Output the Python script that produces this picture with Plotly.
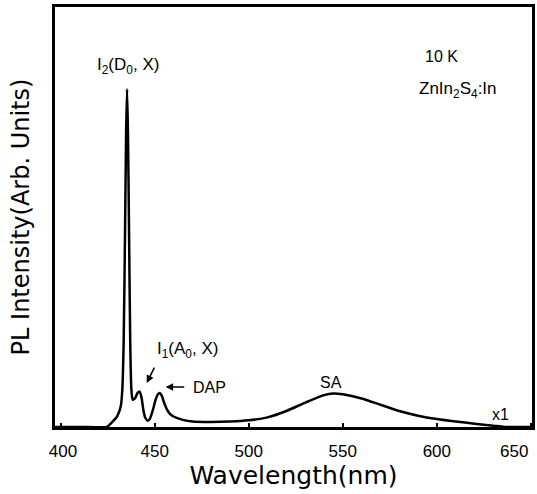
import plotly.graph_objects as go

# Spectrum (wavelength nm, PL intensity arb. units, normalised to axis height)
wavelength = [397, 415, 424.5, 427, 430, 432, 432.8, 433.5, 434.2, 434.8, 435.3,
              435.8, 436.4, 437.0, 437.6, 438.3, 439.5, 441.0, 442.0, 443.0,
              444.0, 445.0, 446.3, 447.5, 449.0, 450.5, 451.7, 452.7, 453.8,
              455.0, 456.5, 458.0, 460.0, 465.0, 470.0, 480.0, 490.0, 500.0,
              510.0, 520.0, 530.0, 540.0, 545.0, 550.0, 560.0, 570.0, 580.0,
              590.0, 600.0, 610.0, 620.0, 630.0, 636.0, 650.0]
intensity = [0, 0, 0, 0.01, 0.025, 0.05, 0.09, 0.2, 0.45, 0.7, 0.805,
             0.7, 0.45, 0.2, 0.09, 0.065, 0.068, 0.082, 0.084, 0.07,
             0.04, 0.022, 0.015, 0.02, 0.04, 0.065, 0.078, 0.081, 0.074,
             0.058, 0.042, 0.032, 0.025, 0.017, 0.013, 0.012, 0.013, 0.016,
             0.023, 0.038, 0.058, 0.076, 0.08, 0.078, 0.068, 0.053, 0.038,
             0.027, 0.019, 0.013, 0.008, 0.003, 0.0, 0.0]

x_ticks = [400, 450, 500, 550, 600, 650]
x_tick_labels = ["\u00a0400", "450", "500", "550", "600", "650"]

font_txt = "Arial, Liberation Sans, sans-serif"

fig = go.Figure()
fig.add_trace(go.Scatter(x=wavelength, y=intensity, mode="lines",
                         line=dict(color="black", width=2.5, shape="spline", smoothing=0.6),
                         showlegend=False, hoverinfo="skip"))

ann = []
def label(x, y, text, size=16, xanchor="center"):
    ann.append(dict(x=x, y=y, xref="x", yref="y", text=text, showarrow=False,
                    xanchor=xanchor, yanchor="middle",
                    font=dict(family=font_txt, size=size, color="black")))

label(435.7, 0.86, "I<sub>2</sub>(D<sub>0</sub>, X)", size=17)
label(467.6, 0.183, "I<sub>1</sub>(A<sub>0</sub>, X)", size=17)
label(469.5, 0.093, "DAP", xanchor="left")
label(544, 0.105, "SA")
label(634, 0.029, "x1")
label(602.3, 0.881, "10 K")
label(611.3, 0.802, "ZnIn<sub>2</sub>S<sub>4</sub>:In", size=17)

# last tick label kept inside the frame (as in the original figure)
ann.append(dict(x=x_ticks[-1], y=0, xref="x", yref="paper", text=x_tick_labels[-1],
                showarrow=False, xanchor="right", yanchor="top", xshift=-1, yshift=-13,
                font=dict(family=font_txt, size=17, color="black")))

# arrows
ann.append(dict(x=445.8, y=0.105, ax=450.2, ay=0.145, xref="x", yref="y",
                axref="x", ayref="y", text="", showarrow=True, arrowhead=2,
                arrowsize=1, arrowwidth=1.5, arrowcolor="black"))
ann.append(dict(x=455.8, y=0.095, ax=466.5, ay=0.095, xref="x", yref="y",
                axref="x", ayref="y", text="", showarrow=True, arrowhead=2,
                arrowsize=1, arrowwidth=1.5, arrowcolor="black"))

fig.update_layout(
    width=537, height=494,
    margin=dict(l=55, r=5, t=7, b=67, autoexpand=False),
    paper_bgcolor="white", plot_bgcolor="white",
    annotations=ann,
    xaxis=dict(range=[397, 650.6], tickvals=x_ticks,
               ticktext=x_tick_labels[:-1] + [""],
               ticks="inside", ticklen=4, tickwidth=2, tickcolor="black",
               showline=True, linecolor="black", linewidth=3, mirror=True,
               showgrid=False, zeroline=False, ticklabelstandoff=7,
               automargin=False,
               tickfont=dict(family=font_txt, size=17, color="black"),
               title=dict(text="Wavelength(nm)", standoff=6,
                          font=dict(family="DejaVu Sans", size=25, color="black"))),
    yaxis=dict(range=[0, 1], showticklabels=False, ticks="", automargin=False,
               showline=True, linecolor="black", linewidth=3, mirror=True,
               showgrid=False, zeroline=False,
               title=dict(text="PL Intensity(Arb. Units)", standoff=16,
                          font=dict(family="DejaVu Sans", size=24, color="black"))),
)

fig.write_html("out.html")
